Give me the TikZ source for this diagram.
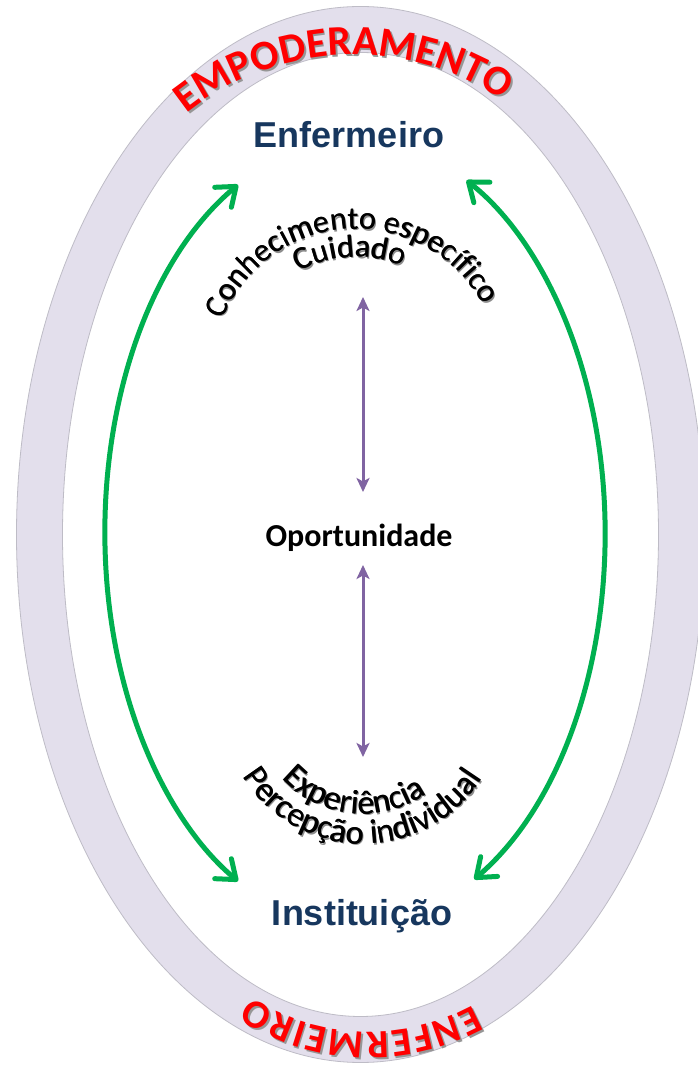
\documentclass[tikz,border=0pt]{standalone}
\usepackage{fontspec}
\setmainfont{Liberation Sans}
\newfontfamily\calib{Carlito}
\usetikzlibrary{decorations.text, arrows.meta}

\definecolor{ringfill}{RGB}{227,223,236}
\definecolor{ringedge}{RGB}{190,188,198}
\definecolor{navy}{RGB}{23,55,94}
\definecolor{arcgreen}{RGB}{0,176,80}
\definecolor{linkpurple}{RGB}{128,100,162}
\definecolor{wordred}{RGB}{255,0,0}
\definecolor{softshadow}{RGB}{150,150,150}
\definecolor{captionshadow}{RGB}{140,140,140}

\newcommand{\bandfont}{\calib\bfseries\fontsize{42}{42}\selectfont}
\newcommand{\bandfontb}{\calib\bfseries\fontsize{40}{40}\selectfont}
\newcommand{\capfont}{\calib\fontsize{32}{32}\selectfont}
\newcommand{\capfontb}{\calib\fontsize{34}{34}\selectfont}

\begin{document}
\begin{tikzpicture}[x=1pt, y=1pt,
  title/.style={font=\bfseries\fontsize{36}{36}\selectfont, text=navy, inner sep=0pt},
  core/.style={font=\calib\bfseries\fontsize{32}{32}\selectfont, inner sep=0pt},
  cycle/.style={draw=arcgreen, line width=5pt,
    arrows={Straight Barb[length=17pt,width=26pt,round]-Straight Barb[length=17pt,width=26pt,round]}},
  link/.style={draw=linkpurple, line width=3pt,
    arrows={Stealth[length=14pt,width=13pt,inset=3.5pt]-Stealth[length=14pt,width=13pt,inset=3.5pt]}},
]
\useasboundingbox (0,0) rectangle (698,1066);
\clip (0,0) rectangle (698,1066);
\fill[white] (0,0) rectangle (698,1066);

% outer band
\fill[ringfill, even odd rule]
  (360.5,531.5) ellipse [x radius=344, y radius=528]
  (360.5,531.5) ellipse [x radius=298, y radius=482];
\draw[ringedge, line width=0.8pt] (360.5,531.5) ellipse [x radius=344, y radius=528];
\draw[ringedge, line width=0.8pt] (360.5,531.5) ellipse [x radius=298, y radius=482];

% lettering on the band: soft shadow first, then the red text
\foreach \dx/\dy/\col in {1.8/-1.8/softshadow, 0/0/wordred}{
  \begin{scope}[shift={(\dx,\dy)}]
    \path[decorate, decoration={text along path, text align=fit to path, text color=\col,
        text={|\bandfont|EMPODERAMENTO}}]
      ([shift={(128.6:268)}]354,743) arc[start angle=128.6, end angle=56.9, radius=268];
    \path[decorate, decoration={text along path, text align=fit to path, text color=\col,
        text={|\bandfontb|ENFERMEIRO}}]
      ([shift={(298.6:218)}]369,252) arc[start angle=298.6, end angle=237.2, radius=218];
  \end{scope}
}

% main labels
\node[title, anchor=base] (nurse) at (349,918) {Enfermeiro};
\node[title, anchor=base] (inst) at (362,140) {Instituição};
\node[core, anchor=base] (opp) at (359,519) {Oportunidade};

% curved captions: a grey shadow, then two close black passes for a heavier stroke
\foreach \dx/\dy/\col in {1.4/-1.4/captionshadow, 0.6/0/black, 0/0/black}{
  \begin{scope}[shift={(\dx,\dy)}]
    \path[decorate, decoration={text along path, text align=center, text color=\col,
        text={|\capfont|Conhecimento específico}}]
      ([shift={(168:144)}]356,693) arc[start angle=168, end angle=18, radius=144];
    \path[decorate, decoration={text along path, text align=center, text color=\col,
        text={|\capfont|Cuidado}}]
      ([shift={(133:116)}]356,693) arc[start angle=133, end angle=53, radius=116];
    \path[decorate, decoration={text along path, text align=center, text color=\col,
        text={|\capfontb|Experiência}}]
      ([shift={(209:111)}]363,363) arc[start angle=209, end angle=319, radius=111];
    \path[decorate, decoration={text along path, text align=center, text color=\col,
        text={|\capfontb|Percepção individual}}]
      ([shift={(197:141)}]363,363) arc[start angle=197, end angle=342, radius=141];
  \end{scope}
}

% green cycle arcs between Enfermeiro and Instituição
\coordinate (lt) at ([shift={(117.9:250 and 394)}]355,533);
\coordinate (rb) at ([shift={(-61.5:250 and 394)}]355,533);
\draw[cycle] (lt) arc[start angle=117.9, end angle=242.1, x radius=250, y radius=394];
\draw[cycle] (rb) arc[start angle=-61.5, end angle=63.5, x radius=250, y radius=394];

% purple links through Oportunidade
\coordinate (upA) at (363,769);
\coordinate (upB) at (363,574);
\coordinate (dnA) at (363,501);
\coordinate (dnB) at (363,309);
\draw[link] (upA) -- (upB);
\draw[link] (dnA) -- (dnB);
\end{tikzpicture}
\end{document}
